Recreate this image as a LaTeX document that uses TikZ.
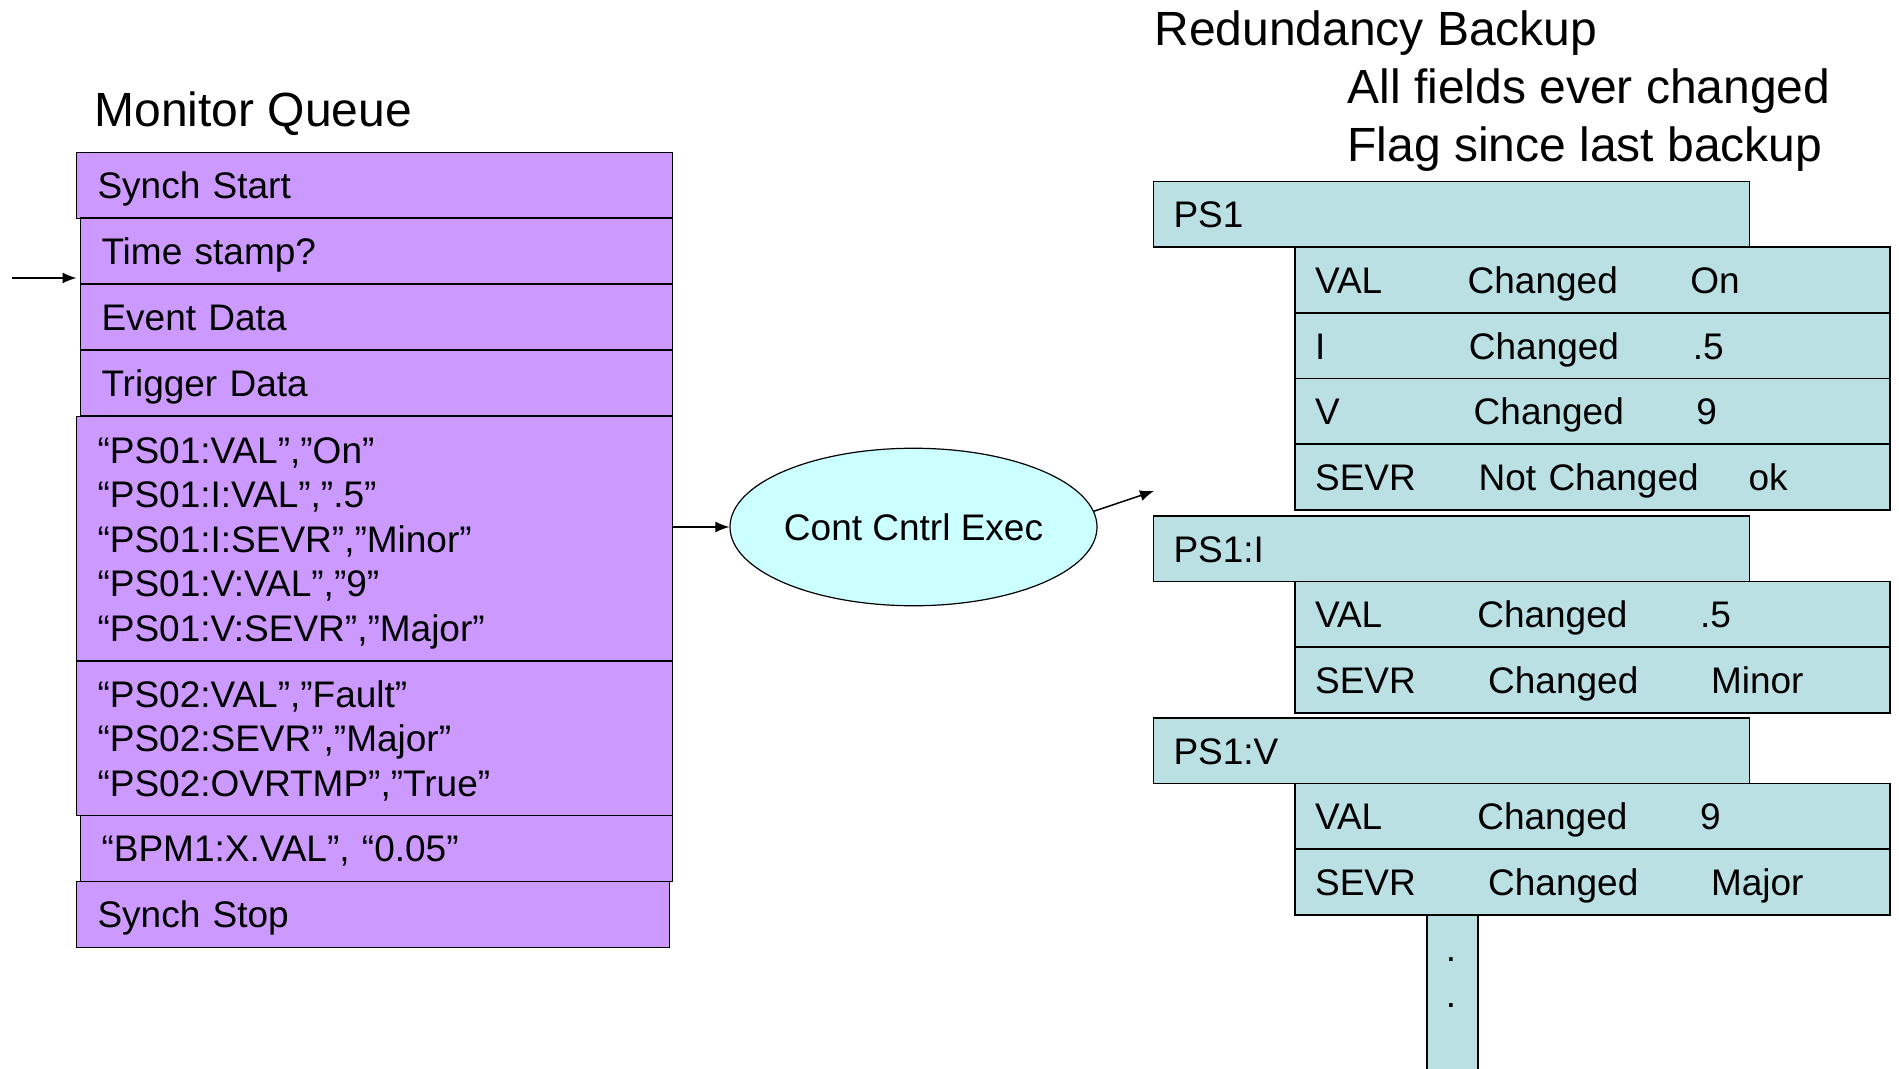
\documentclass[tikz,border=0pt]{standalone}
\usepackage{fontspec}
\setmainfont{Liberation Sans}
\usepackage{tikz}
\usetikzlibrary{arrows.meta,shapes.geometric,positioning}

\definecolor{queuepurple}{RGB}{204,153,255}
\definecolor{execcyan}{RGB}{204,255,255}
\definecolor{backupblue}{RGB}{186,224,227}

\newcommand{\fieldrow}[5]{\rlap{#1}\hspace{#4pt}\rlap{#2}\hspace{#5pt}#3}

\begin{document}
\begin{tikzpicture}[>={Latex[length=7pt,width=5.5pt]}, x=0.5pt, y=-0.5pt,
    headtext/.style={anchor=base west, inner sep=0pt, font=\fontsize{24}{28.8}\selectfont},
    qbox/.style={draw, line width=0.8pt, fill=queuepurple, anchor=north west,
      inner xsep=10.5pt, inner ysep=0pt, outer sep=0pt, align=left, minimum height=33pt,
      font=\fontsize{18.5}{22.25}\selectfont},
    onerow/.style={text height=13.3pt, text depth=0pt},
    hbox/.style={draw, line width=0.8pt, fill=backupblue, anchor=north west,
      inner xsep=10pt, inner ysep=0pt, outer sep=0pt, align=left, minimum height=32.8pt,
      text width=278pt, text height=13.3pt, text depth=0pt,
      font=\fontsize{18.5}{22.25}\selectfont},
    fbox/.style={hbox, text width=277.35pt}]
  \useasboundingbox (0,0) rectangle (1899,1069);

  \node[headtext] (mqtitle) at (94,127) {Monitor Queue};
  \node[qbox, onerow, text width=277pt] (sstart) at (76.5,152.5) {Synch Start};
  \node[qbox, onerow, text width=275pt] (tstamp) at (80.5,218) {Time stamp?};
  \node[qbox, onerow, text width=275pt] (event) at (80.5,284.5) {Event Data};
  \node[qbox, onerow, text width=275pt] (trigger) at (80.5,350) {Trigger Data};
  \node[qbox, text width=277pt, minimum height=122.25pt] (ps01) at (76.5,416.5)
    {\rule{0pt}{17.5pt}“PS01:VAL”,”On”\\“PS01:I:VAL”,”.5”\\“PS01:I:SEVR”,”Minor”\\“PS01:V:VAL”,”9”\\“PS01:V:SEVR”,”Major”};
  \node[qbox, text width=277pt, minimum height=77.25pt] (ps02) at (76.5,661)
    {\rule{0pt}{16pt}“PS02:VAL”,”Fault”\\“PS02:SEVR”,”Major”\\“PS02:OVRTMP”,”True”};
  \node[qbox, onerow, text width=275pt] (bpm) at (80.5,815.5) {“BPM1:X.VAL”, “0.05”};
  \node[qbox, onerow, text width=275.5pt] (sstop) at (76.5,881.5) {Synch Stop};

  \node[ellipse, draw, line width=0.6pt, fill=execcyan, minimum width=183.5pt,
    minimum height=78.75pt, inner sep=0pt, font=\fontsize{18.5}{22.25}\selectfont]
    (cce) at (913.5,527) {Cont Cntrl Exec};

  \node[headtext] (rbtitle) at (1154,46) {Redundancy Backup};
  \node[headtext] (rbline1) at (1347,104) {All fields ever changed};
  \node[headtext] (rbline2) at (1347,162) {Flag since last backup};

  \node[hbox] (ps1) at (1153.5,181.7) {PS1};
  \node[fbox, below right=0pt and 70.8pt of ps1.south west] (ps1val) {\fieldrow{VAL}{Changed}{On}{76.3}{111.4}};
  \node[fbox, below=0pt of ps1val] (ps1i) {\fieldrow{I}{Changed}{.5}{76.9}{112}};
  \node[fbox, below=0pt of ps1i] (ps1v) {\fieldrow{V}{Changed}{9}{79.3}{111.4}};
  \node[fbox, below=0pt of ps1v] (ps1sevr) {\fieldrow{SEVR}{Not Changed}{ok}{81.75}{135}};

  \node[hbox] (psi) at (1153.5,516) {PS1:I};
  \node[fbox, below right=0pt and 70.8pt of psi.south west] (psival) {\fieldrow{VAL}{Changed}{.5}{81.1}{111.45}};
  \node[fbox, below=0pt of psival] (psisevr) {\fieldrow{SEVR}{Changed}{Minor}{86.55}{111.45}};

  \node[hbox] (psv) at (1153.5,718) {PS1:V};
  \node[fbox, below right=0pt and 70.8pt of psv.south west] (psvval) {\fieldrow{VAL}{Changed}{9}{81.1}{111.45}};
  \node[fbox, below=0pt of psvval] (psvsevr) {\fieldrow{SEVR}{Changed}{Major}{86.55}{111.45}};

  \node[draw, line width=0.8pt, fill=backupblue, anchor=north west, inner sep=0pt, outer sep=0pt,
    minimum width=25.45pt, minimum height=90pt,
    below right=0pt and 66pt of psvsevr.south west] (more) {};
  \node[align=center, inner sep=0pt, font=\fontsize{18.5}{23}\selectfont] (dots) at (1451,983) {.\\.};

  \coordinate (feed) at (12,278);
  \coordinate (store) at (1154,491);
  \draw[->, line width=0.75pt] (feed) -- (sstart.west |- feed);
  \draw[->, line width=0.75pt] (ps01.east |- cce.west) -- (cce.west);
  \draw[->, line width=0.75pt] (cce.5) -- (store);
\end{tikzpicture}
\end{document}
